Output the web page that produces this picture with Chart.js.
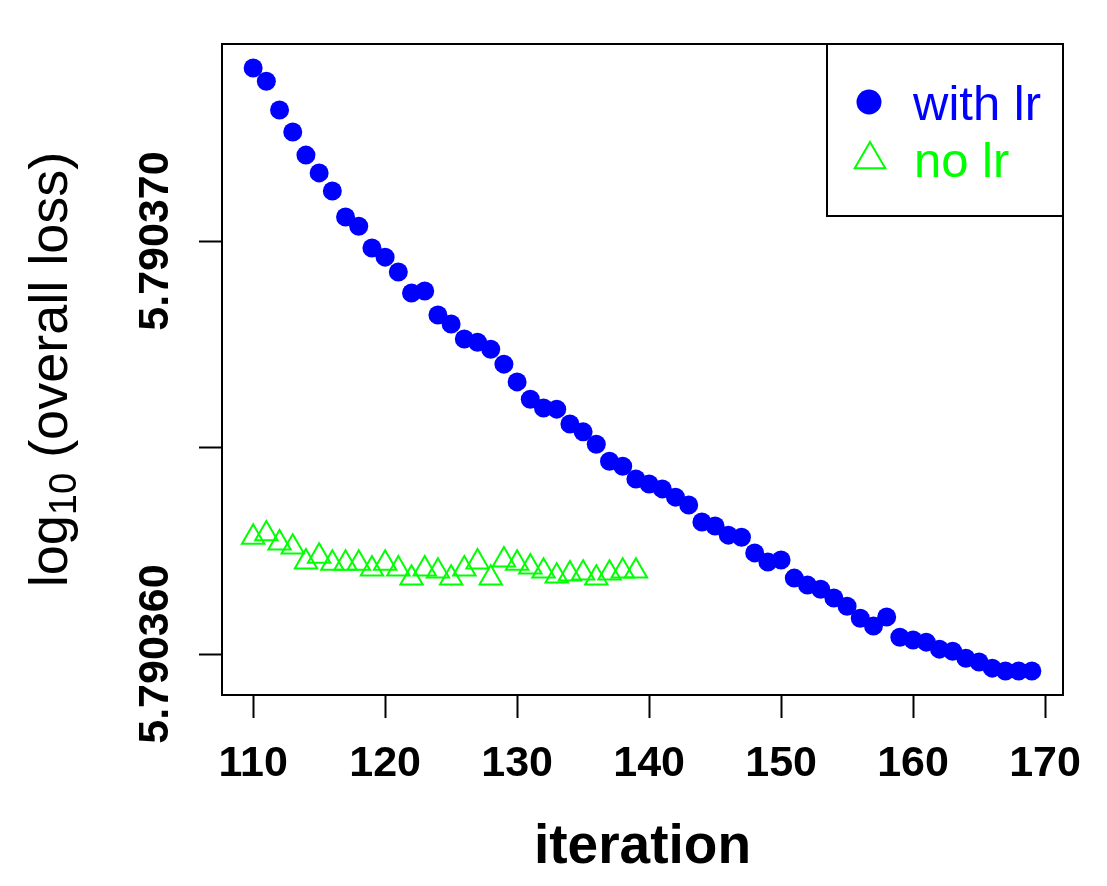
<!DOCTYPE html>
<html>
<head>
<meta charset="utf-8">
<script src="https://cdn.jsdelivr.net/npm/chart.js@4"></script>
<style>
  html, body { margin: 0; padding: 0; background: #fff; }
  canvas { display: block; }
</style>
</head>
<body>
<canvas id="lossChart" width="1107" height="886"></canvas>
<script>
// Data
const withLrIter = [110, 111, 112, 113, 114, 115, 116, 117, 118, 119,
                    120, 121, 122, 123, 124, 125, 126, 127, 128, 129,
                    130, 131, 132, 133, 134, 135, 136, 137, 138, 139,
                    140, 141, 142, 143, 144, 145, 146, 147, 148, 149,
                    150, 151, 152, 153, 154, 155, 156, 157, 158, 159,
                    160, 161, 162, 163, 164, 165, 166, 167, 168, 169];
const withLrLoss = [5.79037419, 5.79037387, 5.79037317, 5.79037264, 5.79037208,
                    5.79037165, 5.79037121, 5.79037058, 5.79037036, 5.79036983,
                    5.79036961, 5.79036925, 5.79036874, 5.79036879, 5.79036821,
                    5.79036799, 5.79036763, 5.79036755, 5.79036738, 5.79036702,
                    5.79036659, 5.79036617, 5.79036596, 5.79036593, 5.79036557,
                    5.79036538, 5.79036508, 5.79036467, 5.79036455, 5.79036424,
                    5.79036412, 5.79036400, 5.79036380, 5.79036361, 5.79036320,
                    5.79036310, 5.79036288, 5.79036283, 5.79036245, 5.79036223,
                    5.79036228, 5.79036184, 5.79036167, 5.79036157, 5.79036136,
                    5.79036116, 5.79036087, 5.79036068, 5.79036090, 5.79036041,
                    5.79036034, 5.79036029, 5.79036012, 5.79036007, 5.79035990,
                    5.79035981, 5.79035966, 5.79035959, 5.79035959, 5.79035959];

const noLrIter = [110, 111, 112, 113, 114, 115, 116, 117, 118, 119,
                  120, 121, 122, 123, 124, 125, 126, 127, 128, 129,
                  130, 131, 132, 133, 134, 135, 136, 137, 138, 139];
const noLrLoss = [5.79036283, 5.79036291, 5.79036269, 5.79036259, 5.79036223,
                  5.79036237, 5.79036220, 5.79036220, 5.79036220, 5.79036206,
                  5.79036220, 5.79036206, 5.79036184, 5.79036206, 5.79036201,
                  5.79036184, 5.79036206, 5.79036223, 5.79036184, 5.79036228,
                  5.79036220, 5.79036211, 5.79036201, 5.79036189, 5.79036194,
                  5.79036196, 5.79036184, 5.79036196, 5.79036201, 5.79036201];

const xTicks = [110, 120, 130, 140, 150, 160, 170];
const yTicks = [5.790360, 5.790365, 5.790370];
const yTickLabels = ['5.790360', '', '5.790370'];

const BLUE = '#0000ff';
const GREEN = '#00ff00';
const FONT = '"Liberation Sans", Arial, Helvetica, sans-serif';

function toPoints(xs, ys) {
    return xs.map((x, i) => ({ x: x, y: ys[i] }));
}

// Frame, tick labels, axis titles and legend box (R style)
const rDecor = {
    id: 'rDecor',
    afterDraw(chart) {
        const ctx = chart.ctx;
        const a = chart.chartArea;
        const xs = chart.scales.x;
        const ys = chart.scales.y;
        ctx.save();

        ctx.strokeStyle = '#000';
        ctx.lineWidth = 2;
        ctx.strokeRect(a.left, a.top, a.right - a.left, a.bottom - a.top);

        // x tick labels
        ctx.fillStyle = '#000';
        ctx.font = 'bold 43px ' + FONT;
        ctx.textAlign = 'center';
        ctx.textBaseline = 'alphabetic';
        xTicks.forEach(t => ctx.fillText(String(t), xs.getPixelForValue(t), 776));

        // x title
        ctx.font = 'bold 55px ' + FONT;
        ctx.fillText('iteration', (a.left + a.right) / 2, 863);

        // y tick labels, rotated
        ctx.font = 'bold 43px ' + FONT;
        yTicks.forEach((t, i) => {
            if (!yTickLabels[i]) return;
            ctx.save();
            ctx.translate(168, ys.getPixelForValue(t));
            ctx.rotate(-Math.PI / 2);
            ctx.fillText(yTickLabels[i], 0, 0);
            ctx.restore();
        });

        // y title with subscript
        const big = 54, small = 38;
        ctx.save();
        ctx.translate(67, (a.top + a.bottom) / 2);
        ctx.rotate(-Math.PI / 2);
        ctx.textAlign = 'left';
        ctx.font = big + 'px ' + FONT;
        const w1 = ctx.measureText('log').width;
        const w3 = ctx.measureText(' (overall loss)').width;
        ctx.font = small + 'px ' + FONT;
        const w2 = ctx.measureText('10').width;
        let px = -(w1 + w2 + w3) / 2;
        ctx.font = big + 'px ' + FONT;
        ctx.fillText('log', px, 0);
        px += w1;
        ctx.font = small + 'px ' + FONT;
        ctx.fillText('10', px, 9);
        px += w2;
        ctx.font = big + 'px ' + FONT;
        ctx.fillText(' (overall loss)', px, 0);
        ctx.restore();

        // legend
        ctx.strokeStyle = '#000';
        ctx.lineWidth = 2;
        ctx.strokeRect(827, a.top, a.right - 827, 216 - a.top);
        ctx.fillStyle = BLUE;
        ctx.beginPath();
        ctx.arc(869, 102, 12.5, 0, Math.PI * 2);
        ctx.fill();
        ctx.strokeStyle = GREEN;
        ctx.beginPath();
        ctx.moveTo(870, 142);
        ctx.lineTo(885.3, 168.3);
        ctx.lineTo(854.7, 168.3);
        ctx.closePath();
        ctx.stroke();
        ctx.textAlign = 'left';
        ctx.font = '49px ' + FONT;
        ctx.fillStyle = BLUE;
        ctx.fillText('with lr', 913, 120);
        ctx.fillStyle = GREEN;
        ctx.fillText('no lr', 914, 177);

        ctx.restore();
    }
};

const ctx = document.getElementById('lossChart').getContext('2d');
new Chart(ctx, {
    type: 'scatter',
    data: {
        datasets: [
            {
                label: 'with lr',
                data: toPoints(withLrIter, withLrLoss),
                pointStyle: 'circle',
                pointRadius: 9.5,
                backgroundColor: BLUE,
                borderColor: BLUE,
                borderWidth: 0
            },
            {
                label: 'no lr',
                data: toPoints(noLrIter, noLrLoss),
                pointStyle: 'triangle',
                pointRadius: 12.9,
                backgroundColor: 'rgba(0,0,0,0)',
                borderColor: GREEN,
                borderWidth: 2
            }
        ]
    },
    options: {
        responsive: false,
        animation: false,
        events: [],
        layout: { padding: { top: 44, right: 44, left: 0, bottom: 0 } },
        plugins: {
            legend: { display: false },
            tooltip: { enabled: false }
        },
        scales: {
            x: {
                type: 'linear',
                min: 107.64,
                max: 171.36,
                afterBuildTicks: s => { s.ticks = xTicks.map(v => ({ value: v })); },
                afterFit: s => { s.height = 191; },
                ticks: { display: false },
                grid: {
                    display: true,
                    drawOnChartArea: false,
                    drawTicks: true,
                    tickLength: 23,
                    tickWidth: 2,
                    tickColor: '#000'
                },
                border: { display: true, color: '#000', width: 2 }
            },
            y: {
                type: 'linear',
                min: 5.79035901,
                max: 5.79037477,
                afterBuildTicks: s => { s.ticks = yTicks.map(v => ({ value: v })); },
                afterFit: s => { s.width = 222; },
                ticks: { display: false },
                grid: {
                    display: true,
                    drawOnChartArea: false,
                    drawTicks: true,
                    tickLength: 23,
                    tickWidth: 2,
                    tickColor: '#000'
                },
                border: { display: true, color: '#000', width: 2 }
            }
        }
    },
    plugins: [rDecor]
});
</script>
</body>
</html>
